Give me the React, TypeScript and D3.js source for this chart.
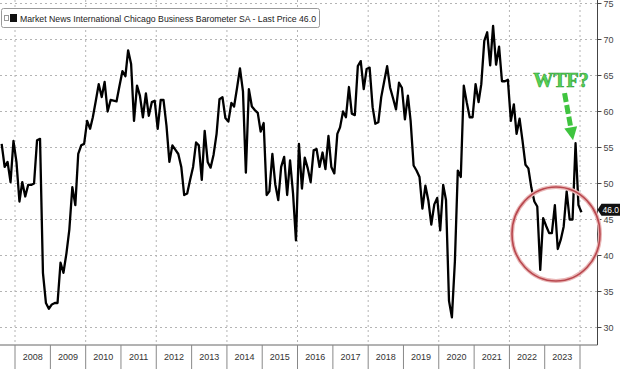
import React from "react";
import * as d3 from "d3";

const width = 620;
const height = 369;

// monthly readings, first one is Aug 2007, last one Jan 2024
const firstYear = 2007;
const firstMonth = 7;
const pmi = [
  55.5, 52.3, 53.0, 50.2, 55.9,
  53.0, 47.5, 50.2, 48.2, 49.8, 49.8, 50.0, 56.0, 56.2, 37.6, 33.4, 32.6,
  33.2, 33.4, 33.4, 39.0, 37.6, 40.3, 43.6, 49.5, 47.0, 54.1, 55.3, 55.5,
  58.7, 57.6, 59.2, 61.5, 63.8, 62.0, 64.1, 60.0, 61.6, 61.5, 61.4, 63.5,
  65.6, 64.9, 68.5, 66.6, 58.7, 63.6, 62.2, 59.2, 62.5, 59.4, 61.3, 61.5,
  57.6, 61.6, 61.6, 58.0, 53.0, 55.3, 54.7, 54.1, 52.3, 48.4, 48.6, 50.5,
  52.3, 55.7, 55.3, 50.5, 57.3, 53.0, 52.2, 54.0, 56.9, 61.7, 62.0, 59.1,
  58.6, 61.2, 60.7, 63.3, 66.0, 62.8, 51.5, 63.1, 60.7, 60.2, 59.8, 57.2,
  58.4, 48.4, 48.9, 54.1, 49.9, 47.7, 52.3, 53.7, 48.4, 53.2, 48.6, 42.1,
  55.5, 49.3, 53.6, 52.1, 50.2, 54.6, 54.8, 52.3, 54.3, 52.0, 56.6, 52.3,
  51.4, 56.9, 57.8, 60.0, 59.2, 63.4, 59.7, 59.5, 66.3, 67.0, 63.1, 65.9,
  66.1, 60.6, 58.3, 58.5, 62.0, 64.2, 66.3, 63.3, 61.8, 60.3, 64.0, 63.3,
  58.9, 62.2, 58.7, 52.5, 51.8, 50.9, 46.5, 49.7, 47.6, 44.3, 47.1, 48.0,
  43.5, 49.8, 47.7, 33.7, 31.4, 39.2, 51.8, 50.9, 63.6, 61.3, 59.2, 59.2,
  63.8, 61.3, 63.8, 69.8, 71.0, 66.4, 71.9, 66.5, 69.0, 64.2, 64.2, 64.4,
  58.7, 61.0, 56.9, 59.0, 56.0, 52.6, 52.1, 49.4, 47.5, 46.8, 38.0, 45.2,
  44.1, 43.1, 43.1, 47.0, 40.9, 42.2, 44.0, 48.9, 45.0, 45.0, 55.6, 47.0,
  46.0,
];

const yearLabels = [2008, 2009, 2010, 2011, 2012, 2013, 2014, 2015, 2016, 2017, 2018, 2019, 2020, 2021, 2022, 2023];
const gridYears = [2008, 2010, 2012, 2014, 2016, 2018, 2020, 2022, 2024];
const yTicks = [30, 35, 40, 45, 50, 55, 60, 65, 70, 75];
const legendText = "Market News International Chicago Business Barometer SA - Last Price 46.0";
const lastPrice = 46.0;
const noteText = "WTF?";

const font = "'Liberation Sans', Arial, sans-serif";
const axisX = 597.5;
const plotBottom = 345;

const x = d3.scaleTime()
  .domain([new Date(2008, 0, 1), new Date(2024, 0, 1)])
  .range([15, 580]);

const y = d3.scaleLinear()
  .domain([30, 75])
  .range([327.5, 3.5]);

const points: [Date, number][] = pmi.map((v, i) => [new Date(firstYear, firstMonth + i, 16), v]);

const line = d3.line<[Date, number]>()
  .x(d => x(d[0]))
  .y(d => y(d[1]));

export default function App() {
  // spike that the note points at
  const spike = points.reduce((best, p, i) => (i > points.length - 6 && p[1] > best[1] ? p : best), points[points.length - 1]);
  const sx = x(spike[0]);
  const sy = y(spike[1]);
  const tip: [number, number] = [sx - 2.5, sy - 3];
  const tail: [number, number] = [tip[0] - 8.5, tip[1] - 47];
  const len = Math.hypot(tip[0] - tail[0], tip[1] - tail[1]);
  const ux = (tip[0] - tail[0]) / len;
  const uy = (tip[1] - tail[1]) / len;
  const headLen = 13;
  const headW = 6.5;
  const bx = tip[0] - ux * headLen;
  const by = tip[1] - uy * headLen;
  const head = [
    [tip[0], tip[1]],
    [bx - uy * headW, by + ux * headW],
    [bx + uy * headW, by - ux * headW],
  ].map(p => p.join(",")).join(" ");

  const ly = y(lastPrice) - 2.5;

  return (
    <svg width={width} height={height} style={{ position: "fixed", left: 0, top: 0, background: "#fff" }}>
      <defs>
        <clipPath id="plot">
          <rect x={0} y={0} width={axisX} height={plotBottom} />
        </clipPath>
      </defs>

      {/* grid */}
      {yTicks.map(t => (
        <line key={"h" + t} x1={0} x2={axisX} y1={y(t)} y2={y(t)} stroke="#b4b4b4" strokeWidth={1} strokeDasharray="2,3" />
      ))}
      {gridYears.map(yr => (
        <line key={"v" + yr} x1={x(new Date(yr, 0, 1))} x2={x(new Date(yr, 0, 1))} y1={0} y2={plotBottom} stroke="#b4b4b4" strokeWidth={1} strokeDasharray="2,3" />
      ))}

      {/* legend */}
      <rect x={1.5} y={8.5} width={318} height={19} rx={2} fill="#fff" stroke="#9a9a9a" />
      <rect x={4.5} y={15.5} width={4} height={5} fill="#fff" stroke="#999" />
      <rect x={10} y={14} width={7} height={8} fill="#111" />
      <text x={20} y={21.5} fontFamily={font} fontSize={9} fill="#222" textLength={296} lengthAdjust="spacingAndGlyphs">
        {legendText}
      </text>

      {/* series */}
      <path d={line(points) || ""} fill="none" stroke="#000" strokeWidth={2.3} strokeLinejoin="round" clipPath="url(#plot)" />

      {/* right axis */}
      <line x1={axisX} x2={axisX} y1={0} y2={plotBottom} stroke="#444" />
      {yTicks.map(t => (
        <g key={"t" + t}>
          <line x1={axisX} x2={axisX + 4} y1={y(t)} y2={y(t)} stroke="#444" />
          <text x={axisX + 6} y={y(t) + 3.2} fontFamily={font} fontSize={9} fill="#444">{t}</text>
        </g>
      ))}

      {/* last price tag */}
      <path d={`M${axisX},${ly} L${axisX + 4},${ly - 6} L620,${ly - 6} L620,${ly + 6} L${axisX + 4},${ly + 6} Z`} fill="#111" />
      <text x={axisX + 5} y={ly + 3} fontFamily={font} fontSize={8.5} fill="#fff">{lastPrice.toFixed(1)}</text>

      {/* bottom year bands */}
      <line x1={0} x2={axisX} y1={plotBottom} y2={plotBottom} stroke="#666" />
      {yearLabels.concat([2024]).map(yr => (
        <line key={"s" + yr} x1={x(new Date(yr, 0, 1))} x2={x(new Date(yr, 0, 1))} y1={plotBottom} y2={height} stroke="#888" />
      ))}
      {yearLabels.map(yr => (
        <text key={"l" + yr} x={(x(new Date(yr, 0, 1)) + x(new Date(yr + 1, 0, 1))) / 2} y={360} textAnchor="middle" fontFamily={font} fontSize={9} fill="#333">
          {yr}
        </text>
      ))}

      {/* annotations */}
      <ellipse cx={556} cy={234} rx={44} ry={47} fill="none" stroke="#e9b7b7" strokeWidth={4} />
      <ellipse cx={556} cy={234} rx={44} ry={47} fill="none" stroke="#b8474e" strokeWidth={1.6} />
      <line x1={tail[0]} y1={tail[1]} x2={bx} y2={by} stroke="#3fc43f" strokeWidth={5} strokeDasharray="9,3" />
      <polygon points={head} fill="#3fc43f" />
      <text x={561} y={87} textAnchor="middle" fontFamily="'Liberation Serif', 'Times New Roman', serif" fontWeight="bold" fontSize={20} fill="#55d455" stroke="#2f9a36" strokeWidth={0.6}>
        {noteText}
      </text>
    </svg>
  );
}
